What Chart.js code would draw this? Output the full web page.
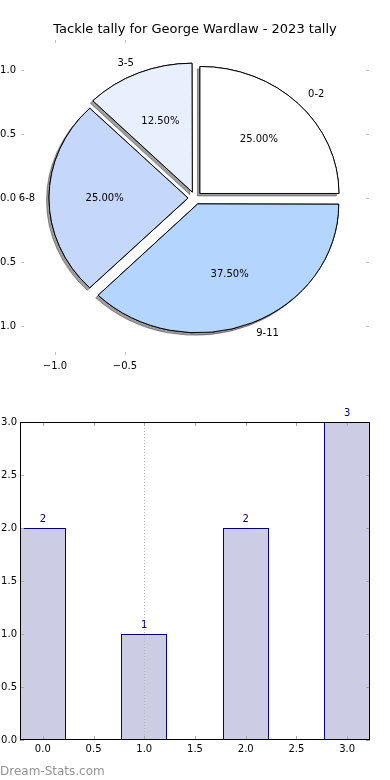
<!DOCTYPE html>
<html>
<head>
<meta charset="utf-8">
<script src="https://cdn.jsdelivr.net/npm/chart.js@4/dist/chart.umd.min.js"></script>
<style>
html,body{margin:0;padding:0;background:#fff;}
#wrap{position:relative;width:390px;height:780px;overflow:hidden;background:#fff;}
#wrap canvas{position:absolute;left:0;}
</style>
</head>
<body>
<div id="wrap">
  <canvas id="pieAxes" width="390" height="390" style="top:0"></canvas>
  <canvas id="pie" width="390" height="396" style="top:0"></canvas>
  <canvas id="bar" width="390" height="390" style="top:390px"></canvas>
</div>
<script>
// ---- data ----
const chartTitle = 'Tackle tally for George Wardlaw - 2023 tally';
const categories = ['0-2', '3-5', '6-8', '9-11'];
const tallies = [2, 1, 2, 3];
const pieColors = ['#ffffff', '#e9f0fd', '#c5d8fc', '#b4d5fd'];
const pieXTicks = [-1.0, -0.5];
const pieYTicks = [-1.0, -0.5, 0.0, 0.5, 1.0];
const barX = [0, 1, 2, 3];
const barXTicks = [0, 0.5, 1.0, 1.5, 2.0, 2.5, 3.0];
const barYTicks = [0, 0.5, 1.0, 1.5, 2.0, 2.5, 3.0];
const refLineX = [1.0];
const watermark = 'Dream-Stats.com';

Chart.defaults.font.family = "'DejaVu Sans', 'Liberation Sans', sans-serif";
Chart.defaults.color = '#000';

const fmt = v => (v < 0 ? '\u2212' : '') + Math.abs(v).toFixed(1);

// inward tick marks (matplotlib style) + optional frame
const innerTicks = {
  id: 'innerTicks',
  afterDraw(chart, args, opts) {
    const {ctx, chartArea: a, scales} = chart;
    const L = opts.len;
    ctx.save();
    ctx.strokeStyle = opts.color;
    ctx.lineWidth = 1;
    ctx.beginPath();
    scales.x.ticks.forEach(t => {
      const px = Math.round(scales.x.getPixelForValue(t.value)) + 0.5;
      ctx.moveTo(px, a.top); ctx.lineTo(px, a.top + L);
      ctx.moveTo(px, a.bottom); ctx.lineTo(px, a.bottom - L);
    });
    scales.y.ticks.forEach(t => {
      const py = Math.round(scales.y.getPixelForValue(t.value)) + 0.5;
      ctx.moveTo(a.left, py); ctx.lineTo(a.left + L, py);
      ctx.moveTo(a.right, py); ctx.lineTo(a.right - L, py);
    });
    ctx.stroke();
    if (opts.frame) {
      ctx.strokeStyle = '#000';
      ctx.strokeRect(Math.round(a.left) + 0.5, Math.round(a.top) + 0.5,
                     Math.round(a.right - a.left) - 1, Math.round(a.bottom - a.top) - 1);
    }
    ctx.restore();
  }
};

// ---- pie axes (ticks + title) ----
new Chart(document.getElementById('pieAxes'), {
  type: 'scatter',
  data: {datasets: [{data: []}]},
  options: {
    responsive: false, animation: false, events: [],
    layout: {padding: 0},
    plugins: {
      legend: {display: false}, tooltip: {enabled: false},
      title: {display: true, text: chartTitle, color: '#000',
              font: {size: 13, weight: 'normal'}, padding: {top: 22, bottom: 2.4}},
      innerTicks: {color: '#c0c0c0', len: 3, frame: false}
    },
    scales: {
      x: {
        type: 'linear', min: -1.243, max: 1.243,
        grid: {display: false, drawTicks: false}, border: {display: false},
        afterBuildTicks: s => { s.ticks = pieXTicks.map(v => ({value: v})); },
        afterFit: s => { s.height = 35; },
        ticks: {color: '#000', font: {size: 10}, padding: 5, maxRotation: 0, autoSkip: false, callback: v => fmt(v)}
      },
      y: {
        type: 'linear', min: -1.227, max: 1.234,
        grid: {display: false, drawTicks: false}, border: {display: false},
        afterBuildTicks: s => { s.ticks = pieYTicks.map(v => ({value: v})); },
        afterFit: s => { s.width = 21; },
        ticks: {color: '#000', font: {size: 10}, padding: 5, autoSkip: false, callback: v => fmt(v)}
      },
      yRight: {
        type: 'linear', position: 'right', axis: 'y', min: -1.227, max: 1.234,
        grid: {display: false, drawTicks: false}, border: {display: false},
        ticks: {display: false},
        afterFit: s => { s.width = 21; }
      }
    }
  },
  plugins: [innerTicks]
});

// ---- pie ----
const pieDecor = {
  id: 'pieDecor',
  beforeDatasetsDraw(chart, args, opts) {
    const meta = chart.getDatasetMeta(0);
    const ctx = chart.ctx;
    const cx = meta.data[0].x, cy = meta.data[0].y;
    ctx.save();
    ctx.translate(cx, cy); ctx.scale(1, opts.yScale); ctx.translate(-cx, -cy);
    ctx.save();
    ctx.shadowColor = opts.shadowColor;
    ctx.shadowOffsetX = -2.5; ctx.shadowOffsetY = 2.5; ctx.shadowBlur = 0;
    meta.data.forEach(el => el.draw(ctx));
    ctx.restore();
  },
  afterDatasetsDraw(chart, args, opts) {
    const ctx = chart.ctx;
    ctx.restore();
    const meta = chart.getDatasetMeta(0);
    const ds = chart.data.datasets[0];
    const total = ds.data.reduce((a, b) => a + b, 0);
    ctx.save();
    ctx.fillStyle = '#000';
    ctx.font = "10px 'DejaVu Sans', sans-serif";
    ctx.textBaseline = 'middle';
    meta.data.forEach((el, i) => {
      const m = (el.startAngle + el.endAngle) / 2;
      const off = (el.options.offset || 0) / 4;
      const R = el.outerRadius;
      const px = d => el.x + Math.cos(m) * (off + d * R);
      const py = d => el.y + opts.yScale * Math.sin(m) * (off + d * R);
      ctx.textAlign = 'center';
      ctx.fillText((ds.data[i] / total * 100).toFixed(2) + '%', px(0.6), py(0.6));
      ctx.textAlign = Math.cos(m) > 0 ? 'left' : 'right';
      ctx.fillText(chart.data.labels[i], px(1.1), py(1.1));
    });
    ctx.restore();
  }
};

new Chart(document.getElementById('pie'), {
  type: 'pie',
  data: {
    labels: categories.slice().reverse(),
    datasets: [{
      data: tallies.slice().reverse(),
      backgroundColor: pieColors.slice().reverse(),
      borderColor: '#000', borderWidth: 1,
      offset: 28, radius: 139
    }]
  },
  options: {
    responsive: false, animation: false, events: [],
    rotation: 90,
    layout: {padding: 0},
    plugins: {
      legend: {display: false}, tooltip: {enabled: false},
      pieDecor: {yScale: 127 / 139, shadowColor: 'rgba(0,0,0,0.38)'}
    }
  },
  plugins: [pieDecor]
});

// ---- bar ----
const barDecor = {
  id: 'barDecor',
  afterDatasetsDraw(chart, args, opts) {
    const {ctx, chartArea: a, scales} = chart;
    const meta = chart.getDatasetMeta(0);
    const ds = chart.data.datasets[0];
    ctx.save();
    // crisp bar outlines from the bar elements' own geometry
    ctx.strokeStyle = opts.edgeColor;
    ctx.lineWidth = 1;
    meta.data.forEach(el => {
      const {x, y, base, width} = el.getProps(['x', 'y', 'base', 'width'], true);
      const l = Math.round(x - width / 2), r = Math.round(x + width / 2);
      const t = Math.round(y), b = Math.round(base);
      ctx.strokeRect(l + 0.5, t + 0.5, r - l - 1, b - t - 1);
    });
    // reference dotted line
    ctx.strokeStyle = opts.refColor;
    ctx.setLineDash([1, 2]);
    refLineX.forEach(v => {
      const px = Math.round(scales.x.getPixelForValue(v)) + 0.5;
      ctx.beginPath(); ctx.moveTo(px, a.top); ctx.lineTo(px, a.bottom); ctx.stroke();
    });
    ctx.setLineDash([]);
    ctx.fillStyle = opts.edgeColor;
    ctx.font = "10px 'DejaVu Sans', sans-serif";
    ctx.textAlign = 'center';
    ctx.textBaseline = 'middle';
    meta.data.forEach((el, i) => {
      ctx.fillText(String(ds.data[i].y), el.x, el.y - 9);
    });
    ctx.restore();
  },
  afterDraw(chart, args, opts) {
    const ctx = chart.ctx;
    ctx.save();
    ctx.fillStyle = '#939393';
    ctx.font = "12px 'DejaVu Sans', sans-serif";
    ctx.textAlign = 'left';
    ctx.textBaseline = 'alphabetic';
    ctx.fillText(watermark, 0, chart.height - 5);
    ctx.restore();
  }
};

new Chart(document.getElementById('bar'), {
  type: 'bar',
  data: {
    datasets: [{
      data: barX.map((x, i) => ({x: x, y: tallies[i]})),
      backgroundColor: '#ccccE5', borderWidth: 0,
      barPercentage: 0.9, categoryPercentage: 1.0
    }]
  },
  options: {
    responsive: false, animation: false, events: [],
    layout: {padding: {left: 0, right: 20, top: 32, bottom: 0}},
    plugins: {
      legend: {display: false}, tooltip: {enabled: false},
      innerTicks: {color: '#a8a8a8', len: 4, frame: true},
      barDecor: {refColor: '#b8b8b8', edgeColor: '#000080'}
    },
    scales: {
      x: {
        type: 'linear', min: -0.225, max: 3.225, offset: false,
        grid: {display: false, drawTicks: false}, border: {display: false},
        afterBuildTicks: s => { s.ticks = barXTicks.map(v => ({value: v})); },
        afterFit: s => { s.height = 40; },
        ticks: {color: '#000', font: {size: 10}, padding: 3.5, maxRotation: 0, autoSkip: false, callback: v => fmt(v)}
      },
      y: {
        type: 'linear', min: 0, max: 3,
        grid: {display: false, drawTicks: false}, border: {display: false},
        afterBuildTicks: s => { s.ticks = barYTicks.map(v => ({value: v})); },
        afterFit: s => { s.width = 20; },
        ticks: {color: '#000', font: {size: 10}, padding: 3, autoSkip: false, callback: v => fmt(v)}
      }
    }
  },
  plugins: [innerTicks, barDecor]
});
</script>
</body>
</html>
